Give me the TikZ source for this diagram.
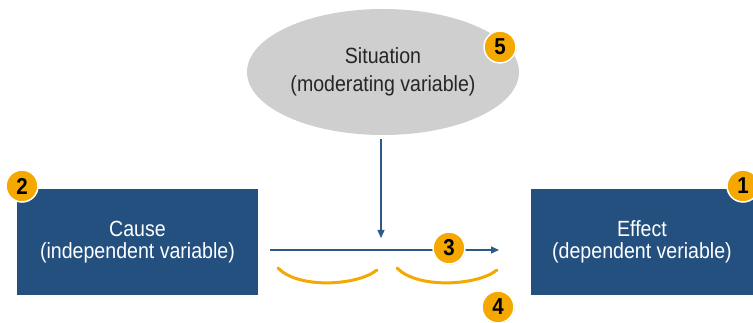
\documentclass[tikz,border=0pt]{standalone}
\usepackage{fontspec}
\setmainfont{Liberation Sans}[FakeStretch=0.89]
\usetikzlibrary{shapes.geometric,arrows.meta,shadows}
\definecolor{boxblue}{HTML}{23507F}
\definecolor{arrowblue}{HTML}{2E5A88}
\definecolor{sitgray}{HTML}{CFCFCF}
\definecolor{amber}{HTML}{F5A800}
\tikzset{
  varbox/.style={rectangle, fill=boxblue, text=white, minimum width=#1, minimum height=106pt, inner sep=0pt, align=center, font=\fontsize{22pt}{22.5pt}\selectfont},
  badge/.style={circle, fill=amber, draw=white, line width=1.5pt, minimum size=32pt, inner sep=0pt, text=black, font=\fontsize{23pt}{24pt}\selectfont\bfseries, drop shadow={opacity=0.25, shadow xshift=0.8pt, shadow yshift=-0.8pt}},
  link/.style={draw=arrowblue, line width=1.3pt, -{Triangle[length=8pt,width=7pt]}},
  bracket/.style={draw=amber, line width=3pt, line cap=round}
}
\begin{document}
\begin{tikzpicture}[x=1pt,y=-1pt]
\useasboundingbox (0,0) rectangle (753,323);
\node[ellipse, fill=sitgray, minimum width=272pt, minimum height=126pt, inner sep=0pt, align=center, text=black!85, font=\fontsize{22pt}{28pt}\selectfont] (sit) at (383,72) {Situation\\(moderating variable)};
\node[varbox=241pt] (cause) at (137.5,242) {Cause\\(independent variable)};
\node[varbox=222pt] (effect) at (642,242) {Effect\\(dependent veriable)};
\coordinate (v1) at (381,139);
\coordinate (v2) at (381,238);
\coordinate (a1) at (270,250);
\coordinate (a2) at (499,250);
\draw[link] (v1) -- (v2);
\draw[link] (a1) -- (a2);
\coordinate (b1s) at (278,268);
\coordinate (b1e) at (377,270);
\coordinate (b2s) at (397,268);
\coordinate (b2e) at (497,270);
\draw[bracket] (b1s) .. controls (298,289) and (357,286) .. (b1e);
\draw[bracket] (b2s) .. controls (417,289) and (477,286) .. (b2e);
\node[badge] (n1) at (743,186) {1};
\node[badge] (n2) at (22,186) {2};
\node[badge] (n3) at (449,248) {3};
\node[badge] (n4) at (498,307) {4};
\node[badge] (n5) at (500,47) {5};
\end{tikzpicture}
\end{document}
